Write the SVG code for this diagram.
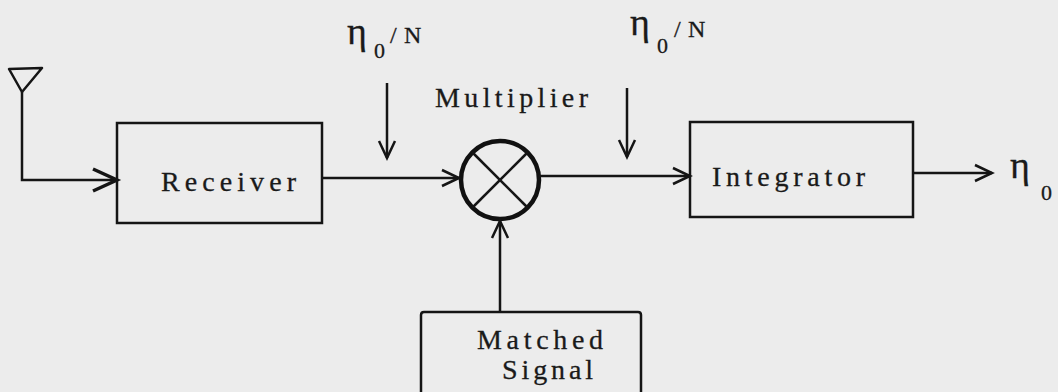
<svg xmlns="http://www.w3.org/2000/svg" width="1058" height="392" viewBox="0 0 1058 392">
  <style>
    .box { fill: none; stroke: #151515; stroke-width: 2.5; }
    .ln { fill: none; stroke: #151515; stroke-width: 2.5; }
    .t { font-family: 'Liberation Serif', 'DejaVu Serif', serif; fill: #1a1a1a; stroke: #1a1a1a; stroke-width: 0.3; }
  </style>
  <defs>
    <marker id="ah" markerUnits="userSpaceOnUse" markerWidth="22" markerHeight="20" refX="18" refY="8" orient="auto" overflow="visible">
      <path d="M1,0 L18,8 L1,16" fill="none" stroke="#151515" stroke-width="2.5"/>
    </marker>
    <marker id="ahBig" markerUnits="userSpaceOnUse" markerWidth="30" markerHeight="30" refX="25" refY="12" orient="auto" overflow="visible">
      <path d="M1,1 L25,12 L1,23" fill="none" stroke="#151515" stroke-width="3.5"/>
    </marker>
  </defs>
  <rect x="0" y="0" width="1058" height="392" fill="#ececec"/>

  <g id="antenna">
    <polygon points="9,69 42,68 22,92" fill="none" stroke="#151515" stroke-width="2.5" stroke-linejoin="round"/>
  </g>

  <g id="receiver">
    <rect class="box" x="117" y="123" width="205" height="100"/>
    <text class="t" font-size="28" x="161" y="191" textLength="135" lengthAdjust="spacing">Receiver</text>
  </g>

  <g id="multiplier">
    <circle cx="500" cy="180" r="39" fill="none" stroke="#111" stroke-width="4.5"/>
    <line class="ln" x1="472" y1="152" x2="528" y2="208"/>
    <line class="ln" x1="528" y1="152" x2="472" y2="208"/>
    <text class="t" font-size="28" x="435" y="107" textLength="153" lengthAdjust="spacing">Multiplier</text>
  </g>

  <g id="integrator">
    <rect class="box" x="690" y="122" width="223" height="95"/>
    <text class="t" font-size="28" x="712" y="186" textLength="153" lengthAdjust="spacing">Integrator</text>
  </g>

  <g id="matched-signal">
    <path class="box" d="M421,392 V315 Q421,312 424,312 H638 Q641,312 641,315 V392"/>
    <text class="t" font-size="28" x="477" y="349" textLength="126" lengthAdjust="spacing">Matched</text>
    <text class="t" font-size="28" x="502" y="379" textLength="91" lengthAdjust="spacing">Signal</text>
  </g>

  <g id="label-noise-1">
    <text class="t" font-size="24"><tspan font-size="38" x="347" y="44">η</tspan><tspan font-size="22" x="374" y="58">0</tspan><tspan x="390" y="43">/</tspan><tspan x="404" y="43">N</tspan></text>
  </g>
  <g id="label-noise-2">
    <text class="t" font-size="24"><tspan font-size="38" x="630" y="35">η</tspan><tspan font-size="22" x="657" y="53">0</tspan><tspan x="674" y="37">/</tspan><tspan x="688" y="37">N</tspan></text>
  </g>
  <g id="label-output">
    <text class="t"><tspan font-size="38" x="1010" y="178">η</tspan><tspan font-size="22" x="1041" y="200">0</tspan></text>
  </g>

  <g id="connectors">
    <path class="ln" d="M22,92 V180 H117" stroke-width="3" marker-end="url(#ahBig)"/>
    <path class="ln" d="M322,178 H459" marker-end="url(#ah)"/>
    <path class="ln" d="M539,176 H690" marker-end="url(#ah)"/>
    <path class="ln" d="M913,173 H992" marker-end="url(#ah)"/>
    <path class="ln" d="M387,83 V158" marker-end="url(#ah)"/>
    <path class="ln" d="M627,88 V157" marker-end="url(#ah)"/>
    <path class="ln" d="M500,312 V221" marker-end="url(#ah)"/>
  </g>
</svg>
